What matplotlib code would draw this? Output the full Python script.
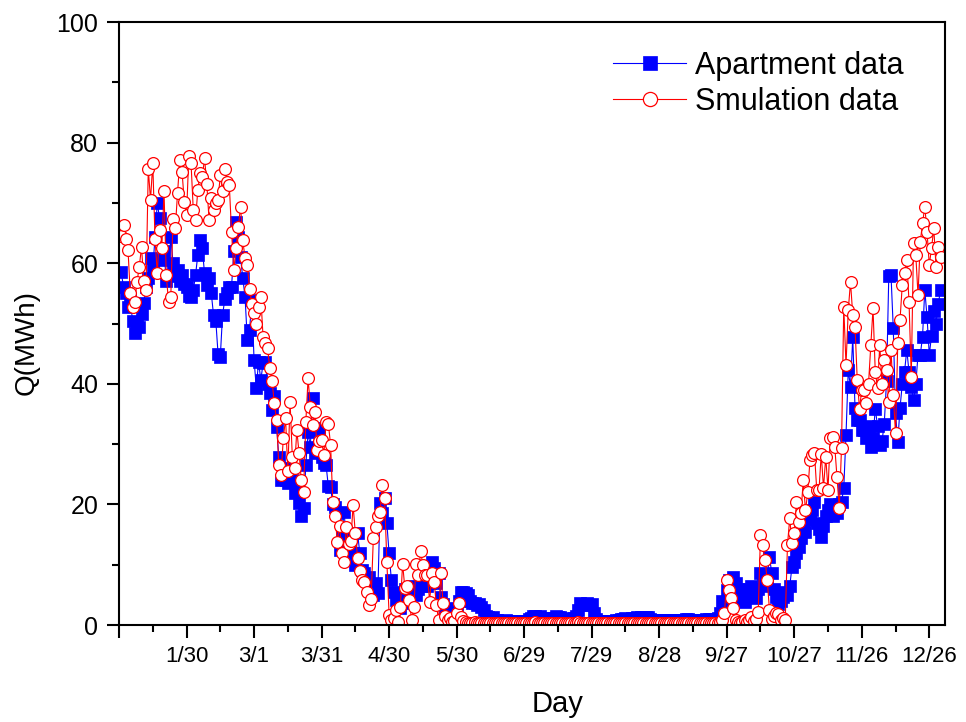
import numpy as np
import matplotlib
matplotlib.use("Agg")
import matplotlib.pyplot as plt
from matplotlib.ticker import MultipleLocator

plt.rcParams['font.family'] = ['Liberation Sans', 'DejaVu Sans']

# daily heating load, MWh (day 1 .. 365)
apartment = [
    58.5, 56.0, 55.0, 52.8, 54.0, 50.5, 48.5, 49.7, 49.5, 51.5,
    53.4, 56.0, 57.5, 60.8, 59.0, 64.3, 70.0, 67.5, 60.5, 62.0,
    57.0, 57.8, 64.4, 60.0, 58.5, 58.9, 57.0, 58.0, 56.5, 56.1,
    54.5, 54.4, 55.5, 58.0, 61.4, 63.8, 62.5, 58.3, 56.4, 57.5,
    55.0, 51.4, 50.5, 45.0, 44.5, 51.4, 54.0, 55.0, 56.0, 56.1,
    62.0, 66.9, 64.4, 61.0, 57.5, 54.4, 47.3, 48.9, 53.9, 44.0,
    39.3, 43.7, 40.6, 43.4, 43.7, 40.0, 38.4, 35.7, 38.0, 32.9,
    27.9, 24.0, 25.5, 24.0, 23.5, 26.0, 24.0, 21.9, 22.4, 20.2,
    18.0, 19.4, 26.5, 32.0, 29.5, 37.6, 28.5, 32.3, 32.6, 27.9,
    26.8, 26.5, 23.0, 22.9, 20.0, 19.6, 18.5, 12.4, 15.0, 18.8,
    14.1, 13.0, 15.0, 12.0, 10.0, 15.2, 11.9, 9.1, 8.6, 7.5,
    8.0, 6.0, 5.0, 6.9, 5.3, 20.2, 18.5, 21.0, 16.9, 11.9,
    7.5, 5.5, 4.1, 3.5, 2.8, 4.5, 6.0, 5.0, 3.6, 5.8,
    6.5, 5.0, 6.0, 6.4, 7.0, 8.0, 6.5, 6.9, 10.5, 9.5,
    7.0, 8.6, 4.7, 3.5, 2.5, 2.8, 2.5, 2.0, 2.5, 2.5,
    4.0, 5.5, 5.5, 5.3, 5.0, 4.0, 3.6, 3.6, 3.4, 3.5,
    3.0, 2.5, 1.5, 1.4, 1.2, 1.3, 0.8, 0.8, 0.7, 0.7,
    0.7, 0.8, 0.7, 0.7, 0.7, 0.6, 0.7, 0.7, 0.6, 0.6,
    0.7, 1.0, 1.2, 1.5, 1.5, 1.4, 1.5, 1.2, 1.1, 1.2,
    1.1, 1.0, 1.2, 1.5, 1.4, 1.3, 1.0, 0.9, 0.8, 1.0,
    1.2, 1.2, 1.5, 2.5, 3.6, 3.4, 3.5, 3.6, 3.3, 3.5,
    2.0, 1.0, 0.7, 0.7, 0.6, 0.7, 0.7, 0.6, 0.7, 0.7,
    0.8, 0.9, 1.0, 1.0, 1.1, 1.0, 1.0, 1.2, 1.2, 1.3,
    1.2, 1.3, 1.4, 1.3, 1.3, 1.0, 0.9, 0.8, 0.8, 0.7,
    0.7, 0.8, 0.8, 0.7, 0.8, 0.8, 0.7, 0.7, 0.8, 0.8,
    0.9, 1.0, 1.0, 0.9, 0.8, 0.8, 0.7, 0.8, 0.8, 0.9,
    1.0, 1.0, 1.0, 0.9, 1.0, 1.2, 2.0, 4.0, 3.6, 5.8,
    7.5, 5.8, 8.0, 7.0, 6.0, 5.5, 4.0, 3.9, 5.3, 6.0,
    6.4, 5.0, 4.5, 6.0, 8.6, 7.0, 6.5, 8.0, 11.3, 8.6,
    6.0, 4.7, 3.5, 4.0, 4.7, 5.5, 5.0, 6.4, 9.7, 10.5,
    11.9, 13.0, 14.4, 16.0, 15.5, 17.4, 18.0, 19.0, 20.4, 17.0,
    16.0, 14.6, 16.5, 18.0, 19.0, 20.0, 18.0, 19.5, 18.5, 20.0,
    20.4, 22.7, 31.5, 42.3, 39.5, 47.8, 36.0, 34.0, 34.0, 32.3,
    32.3, 31.0, 33.0, 29.6, 31.0, 35.9, 33.0, 29.9, 30.5, 33.4,
    40.4, 57.8, 58.0, 49.2, 35.1, 30.4, 36.0, 40.0, 42.0, 45.6,
    42.0, 39.5, 37.3, 40.0, 44.8, 44.8, 47.8, 55.6, 51.1, 44.8,
    48.0, 52.0, 50.0, 53.3, 55.5,
]

simulation = [
    64.5, 66.3, 64.1, 62.2, 55.0, 52.8, 53.6, 56.9, 59.4, 62.7,
    57.0, 55.6, 75.7, 70.5, 76.6, 64.0, 58.3, 65.5, 62.5, 71.9,
    58.0, 53.6, 54.4, 67.4, 65.8, 71.6, 77.1, 75.2, 70.2, 68.0,
    77.7, 76.6, 68.8, 67.2, 72.1, 74.9, 74.3, 77.4, 73.2, 67.2,
    70.8, 68.8, 70.0, 70.5, 74.6, 71.9, 75.7, 73.5, 73.0, 65.2,
    58.9, 62.5, 66.0, 69.4, 63.8, 60.8, 59.7, 55.8, 53.3, 51.8,
    50.0, 52.8, 54.4, 47.8, 46.7, 45.9, 42.6, 40.5, 36.8, 34.0,
    26.5, 24.9, 31.0, 34.3, 25.5, 37.0, 27.9, 26.0, 32.3, 28.5,
    24.0, 22.1, 33.7, 40.9, 36.2, 33.2, 35.4, 29.0, 30.5, 30.7,
    28.2, 33.7, 33.4, 29.9, 20.4, 18.0, 13.8, 16.5, 12.0, 10.5,
    16.3, 13.5, 14.0, 19.9, 15.2, 11.1, 9.0, 7.5, 7.2, 5.5,
    3.3, 4.4, 14.4, 16.3, 18.0, 18.8, 23.2, 21.0, 10.5, 1.7,
    0.8, 1.2, 2.5, 0.5, 3.0, 10.2, 6.1, 6.4, 4.1, 0.8,
    3.0, 10.2, 8.3, 12.2, 10.0, 8.3, 8.3, 3.9, 8.6, 7.2,
    3.3, 0.8, 8.6, 3.6, 1.5, 0.8, 1.2, 0.5, 0.6, 2.0,
    3.6, 1.4, 0.6, 0.5, 0.4, 0.4, 0.4, 0.5, 0.4, 0.4,
    0.4, 0.4, 0.3, 0.4, 0.4, 0.4, 0.4, 0.4, 0.3, 0.4,
    0.4, 0.4, 0.4, 0.4, 0.4, 0.3, 0.4, 0.4, 0.4, 0.4,
    0.4, 0.4, 0.4, 0.4, 0.5, 0.4, 0.4, 0.4, 0.4, 0.4,
    0.4, 0.3, 0.4, 0.4, 0.4, 0.4, 0.4, 0.4, 0.4, 0.4,
    0.4, 0.4, 0.4, 0.5, 0.4, 0.4, 0.4, 0.4, 0.4, 0.4,
    0.4, 0.4, 0.4, 0.4, 0.4, 0.3, 0.4, 0.4, 0.4, 0.4,
    0.4, 0.4, 0.4, 0.4, 0.4, 0.4, 0.4, 0.4, 0.4, 0.4,
    0.4, 0.4, 0.4, 0.3, 0.4, 0.4, 0.4, 0.4, 0.4, 0.4,
    0.4, 0.4, 0.4, 0.4, 0.4, 0.4, 0.4, 0.4, 0.3, 0.4,
    0.4, 0.4, 0.4, 0.4, 0.4, 0.4, 0.4, 0.4, 0.4, 0.4,
    0.4, 0.4, 0.4, 0.4, 0.4, 0.4, 0.5, 0.8, 2.0, 7.5,
    5.8, 4.5, 2.8, 0.8, 0.5, 0.3, 0.5, 0.8, 0.5, 0.8,
    1.4, 0.6, 1.0, 2.2, 14.9, 13.3, 10.8, 7.5, 2.5, 1.0,
    1.5, 2.0, 1.8, 0.8, 1.2, 0.8, 13.3, 17.7, 13.6, 15.2,
    20.4, 17.1, 18.5, 24.0, 19.0, 22.0, 27.4, 28.2, 28.5, 22.4,
    22.4, 28.4, 22.7, 27.9, 22.4, 31.0, 31.2, 29.6, 24.6, 19.4,
    29.3, 52.8, 43.1, 52.2, 56.9, 51.4, 49.5, 40.6, 35.9, 39.0,
    39.0, 36.8, 40.0, 46.4, 52.5, 42.0, 39.3, 46.4, 40.0, 44.0,
    42.3, 37.0, 45.6, 38.1, 31.8, 46.7, 50.6, 56.4, 58.3, 60.5,
    53.6, 41.2, 63.3, 61.4, 54.7, 63.6, 66.6, 69.4, 65.2, 59.7,
    62.5, 65.8, 59.4, 62.7, 61.0,
]

tick_days = [0, 30, 60, 90, 120, 150, 180, 210, 240, 270, 300, 330, 360]
tick_labels = ['', '1/30', '3/1', '3/31', '4/30', '5/30', '6/29', '7/29',
               '8/28', '9/27', '10/27', '11/26', '12/26']

days = np.arange(1, len(apartment) + 1)

fig = plt.figure(figsize=(9.66, 7.22), dpi=100)
ax = fig.add_axes([0.1232, 0.1343, 0.8551, 0.8352])

ax.plot(days, apartment, color='#0000ff', lw=0.8, marker='s', ms=8,
        mfc='#0000ff', mec='#0000ff', mew=0.5, label='Apartment data')
ax.plot(days, simulation, color='#ff0000', lw=0.8, marker='o', ms=8.5,
        mfc='white', mec='#ff0000', mew=0.9, label='Smulation data')

ax.set_xlim(0, 367)
ax.set_ylim(0, 100)
ax.set_xticks(tick_days)
ax.set_xticklabels(tick_labels)
ax.xaxis.set_minor_locator(MultipleLocator(15))
ax.yaxis.set_major_locator(MultipleLocator(20))
ax.yaxis.set_minor_locator(MultipleLocator(10))

ax.tick_params(which='both', direction='out', top=False, right=False,
               width=1.5)
ax.tick_params(which='major', length=9, pad=6)
ax.tick_params(which='minor', length=5)
ax.tick_params(axis='x', labelsize=16)
ax.tick_params(axis='y', labelsize=18)
for sp in ax.spines.values():
    sp.set_linewidth(1.5)

ax.set_xlabel('Day', fontsize=21)
ax.xaxis.set_label_coords(0.531, -0.108)
ax.set_ylabel('Q(MWh)', fontsize=20)
ax.yaxis.set_label_coords(-0.0956, 0.468)

leg = ax.legend(loc='upper left', bbox_to_anchor=(0.598, 0.952),
                frameon=False, fontsize=22, handlelength=2.4,
                handletextpad=0.3, labelspacing=0.2, borderpad=0,
                borderaxespad=0, markerscale=1.2)

fig.savefig('out.png', dpi=100)
